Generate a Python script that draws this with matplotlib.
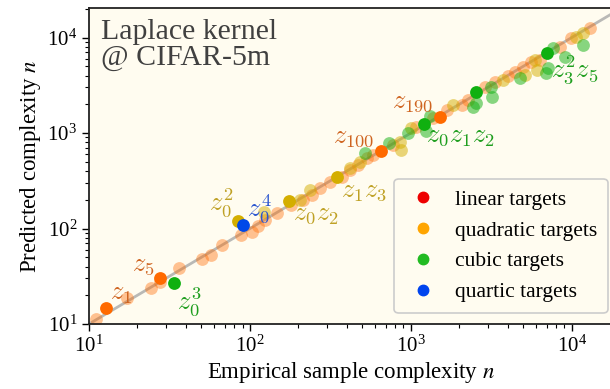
import matplotlib
matplotlib.use("Agg")
import matplotlib.pyplot as plt
from matplotlib.lines import Line2D

plt.rcParams['font.family'] = ['Liberation Serif', 'DejaVu Serif']
plt.rcParams['mathtext.fontset'] = 'stix'

# ---- data (empirical n, predicted n) ----
linear_faint_x = [11.0, 17.3, 24.2, 27.6, 36.2, 50.6, 57.0, 67.3, 87.5, 102.6, 112, 125, 148, 181, 214, 242,
                  272, 314, 371, 418, 471, 531, 583, 776, 1084, 1371, 1667, 2066, 2270, 2884, 3328, 4018,
                  4426, 4990, 5623, 6328, 8414, 9950, 12940]
linear_faint_y = [11.2, 18.6, 23.7, 27.7, 38.3, 47.5, 52.7, 67.1, 85.5, 92.5, 106, 123, 144, 176, 199, 224,
                  264, 309, 349, 410, 463, 543, 589, 748, 1164, 1435, 1742, 1963, 2218, 3055, 3443, 3954,
                  4385, 4943, 5580, 5808, 8017, 9817, 12470]
linear_hi_x = [12.8, 27.8, 652, 1514]
linear_hi_y = [14.8, 30.2, 649, 1483]

quad_faint_x = [122, 205, 236, 418, 482, 855, 875, 1009, 1832, 3741, 5105, 5888, 6095, 10690, 11750]
quad_faint_y = [150, 199, 253, 427, 501, 811, 664, 1119, 1963, 3590, 4046, 5808, 4571, 10190, 11070]
quad_hi_x = [84, 175, 346]
quad_hi_y = [120, 195, 344]

cubic_faint_x = [518, 733, 962, 1239, 1312, 2427, 2559, 3170, 3214, 4753, 6966, 7129, 7656, 9058, 11750]
cubic_faint_y = [622, 791, 993, 1057, 1507, 1884, 2047, 3055, 2399, 3741, 4217, 4766, 7709, 6295, 8356]
cubic_hi_x = [33.7, 1205, 2535, 7000]
cubic_hi_y = [26.7, 1242, 2705, 6900]

quartic_hi_x = [90.6]
quartic_hi_y = [110]

# labels: (text, x, y, dx_px, dy_px, kind)
labels = [
    (r'$z_1$', 12.8, 14.8, 15, 13, 'lin'),
    (r'$z_5$', 27.8, 30.2, -17, 12, 'lin'),
    (r'$z_{100}$', 652, 649, -27, 13, 'lin'),
    (r'$z_{190}$', 1514, 1483, -27, 14, 'lin'),
    (r'$z_0^2$', 84, 120, -17, 18, 'quad'),
    (r'$z_0z_2$', 175, 195, 27, -14, 'quad'),
    (r'$z_1z_3$', 346, 344, 27, -15, 'quad'),
    (r'$z_0^3$', 33.7, 26.7, 15, -18, 'cub'),
    (r'$z_0z_1z_2$', 1205, 1242, 37, -13, 'cub'),
    (r'$z_3^2z_5$', 7000, 6900, 28, -17, 'cub'),
    (r'$z_0^4$', 90.6, 110, 16, 16, 'quar'),
]

legend_labels = ['linear targets', 'quadratic targets', 'cubic targets', 'quartic targets']

# ---- style ----
c_lin = '#FF6A00'
c_quad = '#D4AE00'
c_cub = '#10B010'
c_quar = '#0048E8'
label_colors = {'lin': '#CF6420', 'quad': '#BFA125', 'cub': '#1E9E1E', 'quar': '#2A55D0'}
legend_colors = ['#EE0000', '#FFA500', '#22BB22', '#0044EE']
bg = '#FFFCF0'

fig = plt.figure(figsize=(6.1, 3.89), dpi=100)
ax = fig.add_axes([89/610, 65/389, 523/610, 316/389])
ax.set_facecolor(bg)
ax.set_xscale('log')
ax.set_yscale('log')
xlim = (10, 1.78e4)
ylim = (10, 2.04e4)
ax.set_xlim(*xlim)
ax.set_ylim(*ylim)

ax.plot([10, 3e4], [10, 3e4], color='#A8A8A8', lw=2.0, zorder=1, alpha=0.8)

s = 85
ax.scatter(linear_faint_x, linear_faint_y, s=s, color=c_lin, alpha=0.4, lw=0, zorder=2)
ax.scatter(quad_faint_x, quad_faint_y, s=s, color=c_quad, alpha=0.5, lw=0, zorder=2)
ax.scatter(cubic_faint_x, cubic_faint_y, s=s, color=c_cub, alpha=0.5, lw=0, zorder=2)
ax.scatter(linear_hi_x, linear_hi_y, s=s, color=c_lin, lw=0, zorder=3)
ax.scatter(quad_hi_x, quad_hi_y, s=s, color=c_quad, lw=0, zorder=3)
ax.scatter(cubic_hi_x, cubic_hi_y, s=s, color=c_cub, lw=0, zorder=3)
ax.scatter(quartic_hi_x, quartic_hi_y, s=s, color=c_quar, lw=0, zorder=4)

for txt, x, y, dx, dy, kind in labels:
    ax.annotate(txt, xy=(x, y), xytext=(dx, dy), textcoords='offset pixels',
                ha='center', va='center', fontsize=19, color=label_colors[kind],
                math_fontfamily='cm', zorder=5)

ax.text(0.022, 0.965, 'Laplace kernel\n@ CIFAR-5m', transform=ax.transAxes,
        ha='left', va='top', fontsize=21.5, color='#404040', linespacing=1.0)

handles = [Line2D([], [], marker='o', ls='none', color=c, markersize=7.5) for c in legend_colors]
leg = ax.legend(handles, legend_labels, loc='lower right', fontsize=15.5, frameon=True,
                facecolor=bg, edgecolor='#CCCCCC', framealpha=1.0, handletextpad=0.6,
                borderpad=0.5, labelspacing=0.5, handlelength=1.7, borderaxespad=0,
                bbox_to_anchor=(0.9915, 0.035))
leg.get_frame().set_linewidth(1.2)

ax.set_xlabel(r'Empirical sample complexity $n$', fontsize=16.5, labelpad=2)
ax.set_ylabel(r'Predicted complexity $n$', fontsize=16.5, labelpad=3)
ax.tick_params(axis='both', which='major', labelsize=15, direction='out', length=5, width=1.0)
ax.tick_params(axis='both', which='minor', direction='out', length=3, width=0.8)
for sp in ax.spines.values():
    sp.set_linewidth(1.3)
    sp.set_color('#222222')

fig.savefig('out.png', dpi=100, facecolor='white')
